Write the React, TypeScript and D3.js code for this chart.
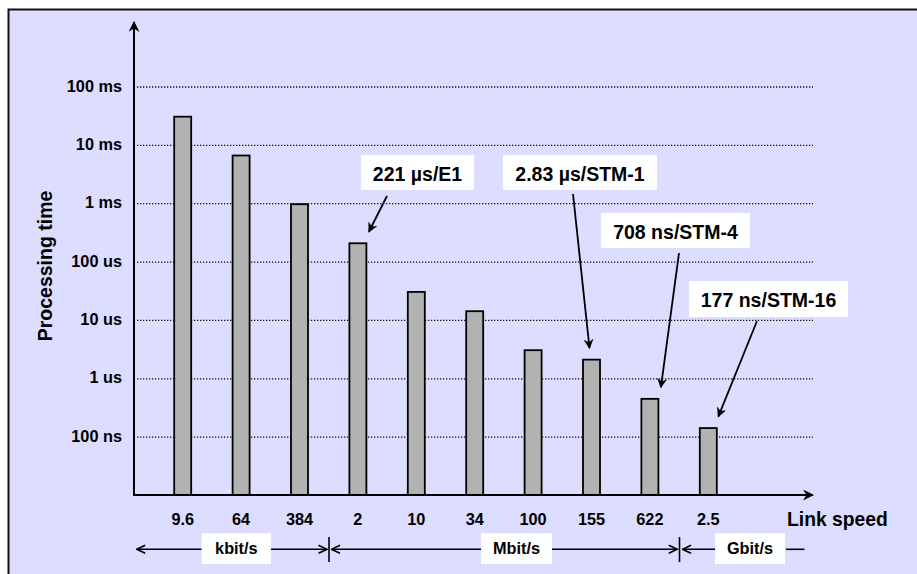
import React from "react";
import * as d3 from "d3";

const categories = ["9.6", "64", "384", "2", "10", "34", "100", "155", "622", "2.5"];
const processingTime = [3.1e-2, 6.7e-3, 0.98e-3, 2.1e-4, 3.08e-5, 1.44e-5, 3.09e-6, 2.13e-6, 4.53e-7, 1.43e-7];
const tickValues = [1e-7, 1e-6, 1e-5, 1e-4, 1e-3, 1e-2, 1e-1];
const tickLabels = ["100 ns", "1 us", "10 us", "100 us", "1 ms", "10 ms", "100 ms"];
const annotationTexts = ["221 \u00b5s/E1", "2.83 \u00b5s/STM-1", "708 ns/STM-4", "177 ns/STM-16"];
const annotationBars = [3, 7, 8, 9];
const unitLabels = ["kbit/s", "Mbit/s", "Gbit/s"];

const W = 917;
const H = 574;
const FONT = "'Liberation Sans', Arial, Helvetica, sans-serif";

// layout for annotation boxes (x, y, w, h) and arrow starts / tip offsets
const annBoxes = [
  [361, 155, 113, 35],
  [503, 155, 154, 35],
  [601, 213, 149, 35],
  [689, 281, 159, 36],
];
const annFrom = [
  [387, 196],
  [573, 194],
  [679, 253],
  [757, 321],
];
const annTipDx = [11, -2, 11, 10];

const unitBoxes = [
  [201.7, 271],
  [481, 552],
  [715, 785],
];

export default function App() {
  const y = d3.scaleLog().domain([1e-8, 1e-1]).range([495.5, 87]);
  const x = d3.scalePoint<string>().domain(categories).range([182.7, 708.3]);
  const axisY = 495;
  const barW = 17;
  const unitY = 549.3;

  return (
    <svg
      width={W}
      height={H}
      style={{ position: "absolute", left: 0, top: 0 }}
      fontFamily={FONT}
      fontWeight="bold"
    >
      <defs>
        <marker id="ah" viewBox="0 0 10 10" refX="9" refY="5" markerWidth="10" markerHeight="10" markerUnits="userSpaceOnUse" orient="auto">
          <path d="M0,0 L10,5 L0,10 L3,5 z" fill="#000" />
        </marker>
        <marker id="axh" viewBox="0 0 10 10" refX="9" refY="5" markerWidth="11" markerHeight="11" markerUnits="userSpaceOnUse" orient="auto">
          <path d="M0,0 L10,5 L0,10 L3,5 z" fill="#000" />
        </marker>
        <marker id="oh" viewBox="0 0 10 10" refX="9.5" refY="5" markerWidth="10" markerHeight="10" markerUnits="userSpaceOnUse" orient="auto">
          <path d="M1,1 L9.5,5 L1,9" fill="none" stroke="#000" strokeWidth="1.6" />
        </marker>
      </defs>
      <rect x={0} y={0} width={W} height={H} fill="#fff" />
      <rect x={8.5} y={9.5} width={W + 20} height={H + 20} fill="#DDDDFF" stroke="#111" strokeWidth={2} />

      {/* grid lines */}
      {tickValues.map((v, i) => (
        <g key={"g" + i}>
          <line x1={137} x2={813} y1={y(v)} y2={y(v)} stroke="#111" strokeWidth={1.3} strokeDasharray="1.3 1.7" />
          <text x={122} y={y(v) + 4.5} textAnchor="end" fontSize={16.3} fill="#000">
            {tickLabels[i]}
          </text>
        </g>
      ))}

      {/* bars */}
      {processingTime.map((v, i) => (
        <rect
          key={"b" + i}
          x={(x(categories[i]) as number) - barW / 2}
          y={y(v)}
          width={barW}
          height={axisY - y(v)}
          fill="#B2B2B2"
          stroke="#000"
          strokeWidth={1.8}
        />
      ))}

      {/* axes */}
      <line x1={134} x2={134} y1={axisY + 1} y2={22} stroke="#000" strokeWidth={2} markerEnd="url(#axh)" />
      <line x1={135} x2={813} y1={axisY} y2={axisY} stroke="#000" strokeWidth={2} markerEnd="url(#axh)" />

      {/* x tick labels */}
      {categories.map((c) => (
        <text key={"t" + c} x={x(c)} y={525} textAnchor="middle" fontSize={16.3} fill="#000">
          {c}
        </text>
      ))}
      <text x={787} y={525.7} fontSize={19.3} fill="#000">Link speed</text>
      <text transform="translate(51.5,266) rotate(-90)" textAnchor="middle" fontSize={19.5} fill="#000">
        Processing time
      </text>

      {/* annotations */}
      {annotationTexts.map((t, i) => {
        const [bx, by, bw, bh] = annBoxes[i];
        const bi = annotationBars[i];
        const tipX = (x(categories[bi]) as number) + annTipDx[i];
        const tipY = y(processingTime[bi]) - 11.5;
        return (
          <g key={"a" + i}>
            <rect x={bx} y={by} width={bw} height={bh} fill="#fff" />
            <text x={bx + bw / 2} y={by + 25.5} textAnchor="middle" fontSize={19.5} fill="#000">
              {t}
            </text>
            <line x1={annFrom[i][0]} y1={annFrom[i][1]} x2={tipX} y2={tipY} stroke="#000" strokeWidth={1.8} markerEnd="url(#ah)" />
          </g>
        );
      })}

      {/* unit ranges */}
      <line x1={201.7} x2={136.7} y1={unitY} y2={unitY} stroke="#000" strokeWidth={1.6} markerEnd="url(#oh)" />
      <line x1={271} x2={327} y1={unitY} y2={unitY} stroke="#000" strokeWidth={1.6} markerEnd="url(#oh)" />
      <line x1={329} x2={329} y1={537} y2={562} stroke="#000" strokeWidth={1.6} />
      <line x1={481} x2={331.5} y1={unitY} y2={unitY} stroke="#000" strokeWidth={1.6} markerEnd="url(#oh)" />
      <line x1={552} x2={677.3} y1={unitY} y2={unitY} stroke="#000" strokeWidth={1.6} markerEnd="url(#oh)" />
      <line x1={679.5} x2={679.5} y1={537} y2={562} stroke="#000" strokeWidth={1.6} />
      <line x1={715} x2={682.5} y1={unitY} y2={unitY} stroke="#000" strokeWidth={1.6} markerEnd="url(#oh)" />
      <line x1={786} x2={804.5} y1={unitY} y2={unitY} stroke="#000" strokeWidth={1.6} />
      {unitLabels.map((u, i) => {
        const [x0, x1] = unitBoxes[i];
        return (
          <g key={"u" + i}>
            <rect x={x0} y={533.3} width={x1 - x0} height={30.7} fill="#fff" />
            <text x={(x0 + x1) / 2} y={554.3} textAnchor="middle" fontSize={16.3} fill="#000">
              {u}
            </text>
          </g>
        );
      })}
    </svg>
  );
}
